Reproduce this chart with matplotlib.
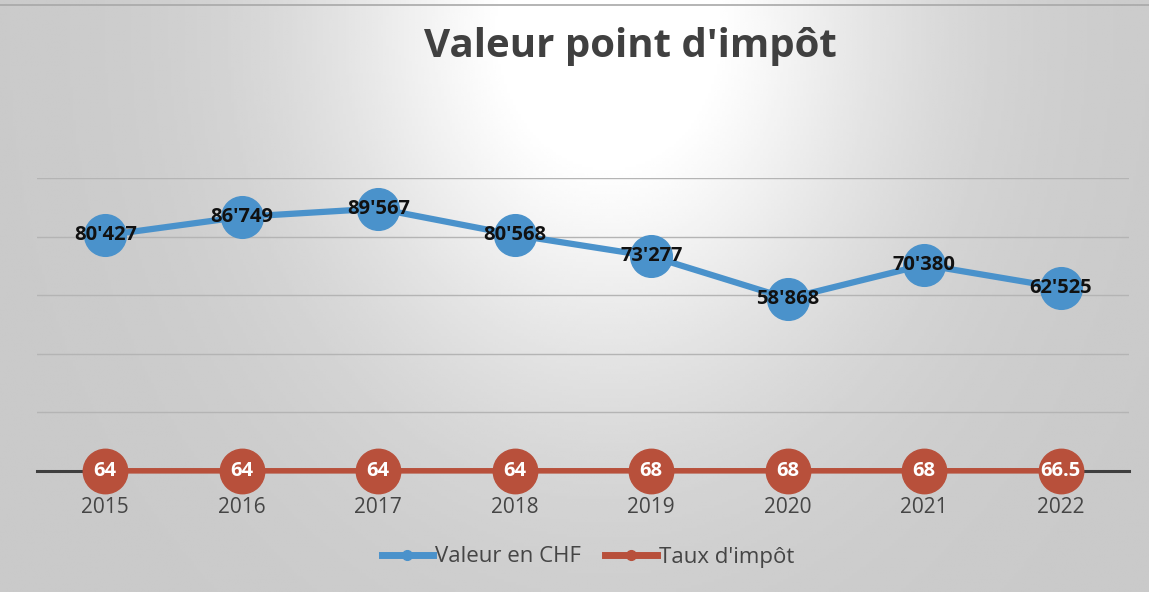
import matplotlib.pyplot as plt
import numpy as np
from matplotlib.lines import Line2D

years = ["2015", "2016", "2017", "2018", "2019", "2020", "2021", "2022"]
valeur_chf = [80427, 86749, 89567, 80568, 73277, 58868, 70380, 62525]
taux_impot = [64, 64, 64, 64, 68, 68, 68, 66.5]

blue = "#4a92cb"
red = "#b8503b"
dark = "#3f3f3f"

plt.rcParams["font.family"] = ["Open Sans", "DejaVu Sans"]

fig = plt.figure(figsize=(11.49, 5.92), dpi=100)

# fond gris avec zone claire au centre (effet scan)
bg = fig.add_axes([0, 0, 1, 1], zorder=-10)
gx, gy = np.meshgrid(np.linspace(0, 1, 400), np.linspace(0, 1, 200))
light = np.exp(-((gx - 0.53) / 0.25) ** 2) * np.exp(-((gy - 0.05) / 0.6) ** 2)
shade = 0.79 + 0.21 * np.clip(light * 1.15, 0, 1)
bg.imshow(shade, cmap="gray", vmin=0, vmax=1, aspect="auto", extent=[0, 1, 0, 1], origin="upper")
bg.axhline(0.992, color="#a8a8a8", lw=1.2)
bg.set_xlim(0, 1)
bg.set_ylim(0, 1)
bg.axis("off")

ax = fig.add_axes([37 / 1149, 1 - 471 / 592, 1092 / 1149, 293 / 592])
ax.patch.set_alpha(0)
x = np.arange(len(years))

ax.plot(x, valeur_chf, color=blue, lw=4.5, marker="o", ms=30, zorder=3, clip_on=False)
ax.plot(x, taux_impot, color=red, lw=4, marker="o", ms=32, zorder=4, clip_on=False)

for xi, v in zip(x, valeur_chf):
    ax.text(xi, v, f"{v:,}".replace(",", "'"), ha="center", va="center",
            fontsize=14.5, fontweight="bold", color="#111111", zorder=5)
for xi, v in zip(x, taux_impot):
    ax.text(xi, v, f"{v:g}", ha="center", va="center",
            fontsize=14.5, fontweight="bold", color="white", zorder=6)

ax.set_xlim(-0.5, len(years) - 0.5)
ax.set_ylim(0, 100000)
ax.set_yticks([20000, 40000, 60000, 80000, 100000])
ax.yaxis.grid(True, color="#b4b4b4", lw=1)
ax.set_axisbelow(True)
ax.set_yticklabels([])
ax.tick_params(axis="y", length=0)
ax.set_xticks(x)
ax.set_xticklabels(years, fontsize=15, color="#454545")
ax.tick_params(axis="x", length=0, pad=19)
for s in ["top", "right", "left"]:
    ax.spines[s].set_visible(False)
ax.spines["bottom"].set_color(dark)
ax.spines["bottom"].set_linewidth(2.2)
ax.spines["bottom"].set_zorder(2)

fig.text(630 / 1149, 1 - 46 / 592, "Valeur point d'impôt", ha="center", va="center",
         fontsize=29, fontweight="bold", color="#404040")

handles = [
    Line2D([], [], color=blue, lw=5, marker="o", ms=7),
    Line2D([], [], color=red, lw=5, marker="o", ms=7),
]
fig.legend(handles, ["Valeur en CHF", "Taux d'impôt"], loc="center",
           bbox_to_anchor=(588 / 1149, 1 - 557 / 592), ncol=2, frameon=False,
           fontsize=16, labelcolor="#454545", handlelength=2.3, handletextpad=0.1,
           columnspacing=1.1)

fig.savefig("out.png", dpi=100)
